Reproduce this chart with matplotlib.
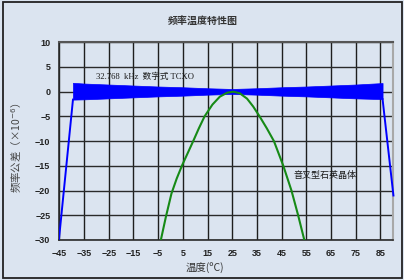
import matplotlib
matplotlib.use("Agg")
import matplotlib.pyplot as plt
from matplotlib.patches import Rectangle

# ── Data ──────────────────────────────────────────────────────────────────────
# TCXO: steep fall-off segments at both ends
tcxo_left_t  = [-45.2, -39.5]
tcxo_left_v  = [-30.0, -1.6]
tcxo_right_t = [85.9, 90.3]
tcxo_right_v = [-1.5, -21.0]
# TCXO: envelope of the dense band in between
band_t  = [-39.5, -35, -25, -15, -5, 5, 15, 25, 35, 45, 55, 65, 75, 85.9]
band_hi = [1.8, 1.65, 1.45, 1.25, 1.05, 0.9, 0.7, 0.55, 0.7, 0.9, 1.05, 1.25, 1.45, 1.75]
band_lo = [-1.6, -1.55, -1.35, -1.15, -0.95, -0.8, -0.6, -0.45, -0.6, -0.8, -0.95, -1.15, -1.35, -1.5]

# tuning-fork crystal
fork_t = [-3.9, -1.9, 0.4, 2.5, 4.7, 7.0, 9.2, 11.5, 13.8, 17.0, 20.0, 23.0, 25.5,
          28.0, 31.0, 33.5, 36.1, 39.0, 41.9, 45.7, 49.0, 51.7, 54.2]
fork_v = [-30.0, -25.4, -20.6, -17.6, -14.9, -12.4, -10.0, -7.4, -5.0, -2.6, -1.0,
          -0.2, 0.0, -0.3, -1.4, -3.0, -5.0, -7.4, -10.0, -15.0, -20.0, -25.0, -30.0]

x_ticks = list(range(-45, 86, 10))
y_ticks = list(range(-30, 11, 5))

BG = "#dbe4f0"
CJK = ["Noto Sans CJK SC", "DejaVu Sans"]

fig = plt.figure(figsize=(4.04, 2.8), dpi=100, facecolor=BG)
ax = fig.add_axes([0.147, 0.143, 0.825, 0.706], facecolor=BG)

# grid behind the curves
for t in x_ticks:
    ax.axvline(t, color="#1e1e1e", lw=1.0, zorder=1)
for v in y_ticks:
    ax.axhline(v, color="#2a2a2a", lw=1.0, zorder=1)

ax.fill_between(band_t, band_lo, band_hi, color="#0000ff", lw=0.5, zorder=3)
ax.plot(tcxo_left_t, tcxo_left_v, color="#0000ff", lw=1.4, zorder=3)
ax.plot(tcxo_right_t, tcxo_right_v, color="#0000ff", lw=1.4, zorder=3,
        clip_on=False)
ax.plot(fork_t, fork_v, color="#168a16", lw=1.5, zorder=4)

ax.set_xlim(-45, 90)
ax.set_ylim(-30, 10)
ax.set_xticks(x_ticks)
ax.set_yticks(y_ticks)
ax.tick_params(length=0, pad=6.5)
for lab in ax.get_xticklabels() + ax.get_yticklabels():
    lab.set_fontfamily("Liberation Sans")
    lab.set_fontweight("bold")
    lab.set_fontsize(6.5)
    lab.set_color("#222222")

for side in ("left", "bottom"):
    ax.spines[side].set_color("#2a2a2a")
    ax.spines[side].set_linewidth(1.2)
ax.spines["top"].set_color("#555555")
ax.spines["top"].set_linewidth(1.5)
ax.spines["right"].set_color("#a8a8a8")
ax.spines["right"].set_linewidth(1.5)

# annotations
ax.text(-30.2, 3.1, "32.768  kHz  数字式 TCXO", fontsize=6.2,
        family=["Liberation Serif", "Noto Sans CJK SC"], color="#1a1a1a",
        va="center", ha="left", zorder=5)
ax.text(50.0, -17.0, "音叉型石英晶体", fontsize=6.5, family=CJK,
        color="#1a1a1a", va="center", ha="left", zorder=5)

# titles and axis labels
fig.text(203 / 404, 1 - 20.5 / 280, "频率温度特性图", fontsize=7.2, family=CJK,
         fontweight="bold", color="#333333", ha="center", va="center")
fig.text(17 / 404, 1 - 148 / 280, "频率公差（×10$^{-6}$）", fontsize=7.5,
         family=CJK, color="#444444", rotation=90, ha="center", va="center")
fig.text(205 / 404, 1 - 268 / 280, "温度(ºC)", fontsize=7.5, family=CJK,
         color="#333333", ha="center", va="center")

# outer frame
fig.patches.append(Rectangle((3 / 404, 2 / 280), 399 / 404, 276 / 280,
                             transform=fig.transFigure, fill=False,
                             edgecolor="#222222", lw=1.3))

fig.savefig("out.png", dpi=100, facecolor=BG)
plt.close(fig)
